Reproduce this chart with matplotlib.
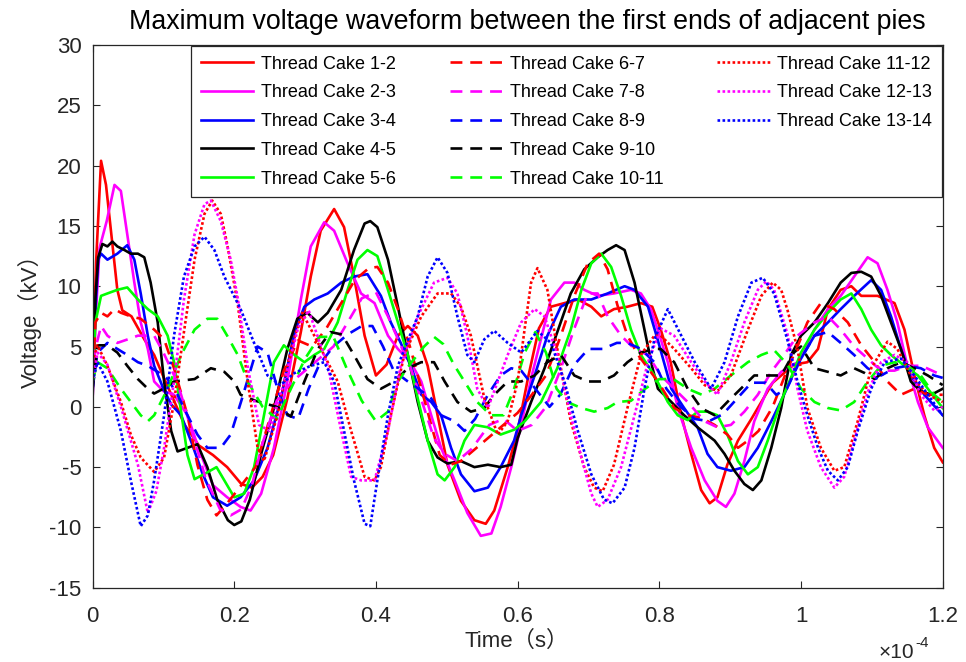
import numpy as np
import matplotlib
matplotlib.use('Agg')
import matplotlib.pyplot as plt
from matplotlib.lines import Line2D

# time in units of 1e-4 s, voltage in kV
pts_1_2 = [(0,2.0),(0.005,12.0),(0.012,20.4),(0.019,18.4),(0.028,13.5),(0.035,9.7),(0.042,8.0),(0.055,7.5),(0.073,5.6),(0.087,4.3),(0.1,2.5),(0.115,0.5),(0.13,-1.5),(0.15,-3.2),(0.17,-4.0),(0.19,-5.0),(0.21,-6.4),(0.225,-6.7),(0.24,-5.8),(0.255,-4.0),(0.275,0.7),(0.294,6.2),(0.308,10.8),(0.322,14.6),(0.341,16.4),(0.355,14.9),(0.369,10.8),(0.384,5.9),(0.4,2.6),(0.415,3.5),(0.431,5.9),(0.445,6.7),(0.459,5.9),(0.473,3.4),(0.487,-0.7),(0.501,-4.8),(0.52,-7.8),(0.539,-9.4),(0.555,-9.7),(0.567,-8.6),(0.586,-5.0),(0.6,-2.0),(0.615,2.5),(0.63,6.5),(0.647,8.3),(0.666,8.6),(0.685,8.9),(0.704,8.3),(0.718,7.5),(0.736,8.1),(0.755,8.3),(0.774,8.6),(0.79,8.3),(0.802,6.4),(0.816,3.7),(0.831,-0.7),(0.845,-3.9),(0.859,-6.9),(0.871,-8.0),(0.882,-7.5),(0.896,-4.8),(0.911,-2.8),(0.93,-1.0),(0.96,2.0),(0.99,3.5),(1.009,3.7),(1.024,4.8),(1.038,8.1),(1.056,9.7),(1.071,10.0),(1.085,9.2),(1.108,9.2),(1.132,8.6),(1.146,6.4),(1.16,2.6),(1.174,-0.7),(1.188,-3.4),(1.2,-4.6)]
pts_2_3 = [(0,0.5),(0.005,8.0),(0.01,13.2),(0.02,15.4),(0.031,18.4),(0.04,17.9),(0.049,14.3),(0.059,10.3),(0.068,7.0),(0.078,4.8),(0.087,2.1),(0.1,1.3),(0.115,1.0),(0.134,-0.7),(0.15,-3.5),(0.17,-6.5),(0.19,-7.5),(0.209,-8.3),(0.223,-8.6),(0.238,-7.2),(0.256,-3.4),(0.275,2.1),(0.294,8.9),(0.308,13.3),(0.327,15.3),(0.341,14.6),(0.36,11.9),(0.379,9.4),(0.398,8.6),(0.417,5.9),(0.431,4.8),(0.449,3.7),(0.464,2.1),(0.478,-0.7),(0.492,-3.4),(0.511,-6.1),(0.529,-8.8),(0.548,-10.7),(0.563,-10.5),(0.576,-8.3),(0.591,-5.0),(0.605,-1.5),(0.62,2.6),(0.647,8.9),(0.666,10.3),(0.68,10.3),(0.694,9.7),(0.713,9.2),(0.736,9.4),(0.76,9.7),(0.774,9.4),(0.788,8.1),(0.8,6.0),(0.812,3.7),(0.826,-0.1),(0.845,-3.4),(0.864,-6.1),(0.882,-7.8),(0.894,-8.3),(0.906,-7.2),(0.92,-4.5),(0.934,-1.2),(0.953,1.5),(0.972,2.9),(0.995,3.7),(1.019,6.4),(1.038,8.1),(1.056,9.2),(1.075,10.8),(1.094,12.4),(1.108,11.9),(1.122,9.7),(1.136,7.0),(1.15,3.4),(1.165,0.4),(1.179,-1.7),(1.2,-3.4)]
pts_3_4 = [(0,1.0),(0.004,8.0),(0.008,12.2),(0.012,12.7),(0.021,12.2),(0.035,12.7),(0.049,13.4),(0.059,12.2),(0.068,9.4),(0.078,5.9),(0.087,3.4),(0.1,1.5),(0.111,0.2),(0.125,-0.7),(0.14,-3.0),(0.155,-5.5),(0.17,-7.5),(0.19,-8.2),(0.209,-7.5),(0.228,-6.1),(0.247,-3.4),(0.266,0.7),(0.285,6.2),(0.299,8.3),(0.313,8.9),(0.332,9.4),(0.351,10.3),(0.369,10.8),(0.388,11.0),(0.407,9.2),(0.421,7.0),(0.435,5.3),(0.449,3.4),(0.464,1.0),(0.478,0.4),(0.492,-0.7),(0.506,-3.4),(0.52,-5.6),(0.539,-7.0),(0.558,-6.7),(0.576,-5.0),(0.595,-2.8),(0.605,-0.7),(0.624,2.6),(0.642,5.9),(0.661,8.3),(0.68,8.9),(0.704,8.9),(0.727,9.4),(0.751,10.0),(0.765,9.7),(0.784,8.3),(0.798,5.5),(0.817,1.5),(0.835,-0.1),(0.854,-1.7),(0.868,-3.9),(0.882,-5.0),(0.901,-5.3),(0.92,-5.0),(0.939,-3.4),(0.958,-1.2),(0.976,1.0),(0.995,3.5),(1.019,5.9),(1.038,7.0),(1.056,8.1),(1.075,9.2),(1.099,10.5),(1.113,9.7),(1.127,7.5),(1.141,4.8),(1.155,2.6),(1.174,1.0),(1.2,-0.7)]
pts_4_5 = [(0,0.5),(0.004,9.0),(0.008,12.4),(0.014,13.5),(0.021,13.3),(0.028,13.7),(0.035,13.3),(0.045,13.0),(0.054,12.7),(0.064,12.7),(0.073,12.4),(0.082,10.3),(0.092,7.0),(0.101,2.1),(0.111,-2.0),(0.12,-3.7),(0.134,-3.4),(0.148,-3.1),(0.162,-5.0),(0.176,-7.7),(0.191,-9.4),(0.2,-9.8),(0.21,-9.5),(0.222,-7.7),(0.238,-3.9),(0.256,-0.1),(0.275,4.8),(0.289,7.3),(0.303,7.8),(0.318,7.0),(0.332,7.8),(0.351,9.7),(0.369,13.0),(0.384,15.2),(0.392,15.4),(0.402,14.9),(0.417,12.2),(0.431,8.3),(0.445,4.3),(0.459,0.4),(0.473,-2.8),(0.487,-4.2),(0.501,-4.7),(0.52,-4.5),(0.539,-5.0),(0.558,-4.8),(0.576,-5.0),(0.591,-4.8),(0.6,-2.6),(0.619,0.4),(0.638,3.2),(0.656,6.2),(0.675,9.4),(0.694,11.4),(0.713,12.4),(0.727,13.0),(0.739,13.4),(0.751,13.0),(0.765,10.3),(0.779,6.4),(0.79,3.3),(0.798,1.5),(0.817,0.4),(0.835,-0.7),(0.854,-1.7),(0.878,-2.8),(0.892,-3.9),(0.906,-5.3),(0.92,-6.4),(0.932,-6.9),(0.944,-6.1),(0.958,-3.4),(0.972,-0.1),(0.986,4.3),(1.0,5.9),(1.019,7.0),(1.038,8.6),(1.056,10.3),(1.071,11.1),(1.085,11.2),(1.099,10.8),(1.113,9.2),(1.127,7.0),(1.141,4.8),(1.155,2.1),(1.169,1.3),(1.184,1.0),(1.2,1.5)]
pts_5_6 = [(0,2.1),(0.004,7.0),(0.012,9.2),(0.021,9.4),(0.035,9.7),(0.049,9.9),(0.064,8.9),(0.078,8.1),(0.092,7.5),(0.106,5.9),(0.115,3.7),(0.125,-0.4),(0.134,-4.0),(0.144,-6.0),(0.16,-5.5),(0.175,-5.0),(0.19,-6.5),(0.2,-7.5),(0.214,-7.2),(0.228,-5.0),(0.242,-0.7),(0.256,3.7),(0.27,5.1),(0.285,4.3),(0.299,3.7),(0.313,4.3),(0.327,4.8),(0.346,7.0),(0.36,9.7),(0.374,12.2),(0.388,13.0),(0.402,12.5),(0.417,9.7),(0.431,7.0),(0.445,4.3),(0.459,0.7),(0.473,-2.8),(0.487,-5.6),(0.497,-6.1),(0.511,-5.0),(0.525,-2.8),(0.539,-1.5),(0.558,-1.7),(0.576,-2.3),(0.595,-1.9),(0.61,-1.2),(0.633,0.4),(0.656,3.2),(0.675,6.4),(0.69,9.7),(0.704,11.9),(0.718,12.7),(0.732,11.6),(0.746,9.2),(0.76,6.4),(0.774,4.3),(0.793,2.6),(0.812,0.4),(0.826,-0.7),(0.84,-1.1),(0.854,-0.4),(0.868,-0.4),(0.882,-0.7),(0.896,-2.3),(0.911,-4.5),(0.925,-5.6),(0.939,-5.0),(0.953,-2.8),(0.972,0.5),(0.99,3.0),(1.0,4.5),(1.019,6.4),(1.038,7.8),(1.056,8.9),(1.071,9.4),(1.085,8.1),(1.099,6.4),(1.113,5.1),(1.127,4.3),(1.146,3.4),(1.165,2.6),(1.179,1.5),(1.2,-0.1)]
pts_6_7 = [(0,1.5),(0.004,7.0),(0.012,7.8),(0.021,7.5),(0.031,8.1),(0.04,7.8),(0.054,7.5),(0.068,7.3),(0.087,6.4),(0.101,5.6),(0.115,3.2),(0.134,-0.7),(0.148,-4.8),(0.162,-7.7),(0.175,-9.0),(0.19,-8.0),(0.21,-6.5),(0.23,-5.0),(0.25,-1.0),(0.27,3.0),(0.29,5.5),(0.31,5.0),(0.33,6.5),(0.35,8.5),(0.37,10.5),(0.39,11.5),(0.402,11.6),(0.417,10.3),(0.431,8.1),(0.449,4.8),(0.464,1.5),(0.478,-1.5),(0.49,-4.0),(0.505,-4.8),(0.52,-4.5),(0.54,-3.5),(0.56,-2.5),(0.58,-1.5),(0.6,-0.5),(0.62,1.0),(0.64,2.6),(0.661,5.9),(0.68,9.2),(0.699,11.9),(0.715,12.7),(0.727,11.4),(0.741,8.4),(0.755,5.9),(0.77,4.3),(0.784,3.2),(0.798,2.1),(0.821,-0.1),(0.84,-0.7),(0.859,-0.9),(0.878,-1.5),(0.896,-2.3),(0.911,-3.4),(0.925,-2.8),(0.94,-2.0),(0.96,0.0),(0.98,3.0),(0.995,5.0),(1.009,7.0),(1.028,8.6),(1.047,8.1),(1.066,7.0),(1.085,5.1),(1.104,3.7),(1.122,2.1),(1.141,1.0),(1.16,1.5),(1.179,1.0),(1.2,1.0)]
pts_7_8 = [(0,2.1),(0.004,4.8),(0.012,6.7),(0.021,5.9),(0.035,5.3),(0.05,5.6),(0.064,5.9),(0.087,5.9),(0.1,4.5),(0.12,2.0),(0.14,-2.0),(0.16,-6.0),(0.18,-8.5),(0.195,-9.0),(0.21,-8.5),(0.225,-6.5),(0.24,-3.0),(0.26,0.5),(0.28,2.0),(0.3,3.0),(0.32,4.0),(0.34,5.0),(0.36,7.0),(0.38,9.0),(0.4,9.5),(0.417,7.5),(0.435,5.1),(0.449,3.2),(0.468,-0.1),(0.482,-2.6),(0.497,-3.9),(0.515,-4.5),(0.535,-3.5),(0.56,-1.5),(0.58,-1.0),(0.6,-2.0),(0.62,-1.5),(0.64,0.0),(0.66,3.0),(0.68,6.5),(0.699,9.4),(0.713,9.4),(0.727,7.5),(0.746,5.9),(0.765,4.8),(0.784,4.3),(0.802,2.6),(0.821,1.5),(0.84,0.4),(0.864,-1.2),(0.882,-1.7),(0.901,-1.5),(0.92,-0.4),(0.939,1.0),(0.958,2.9),(0.976,4.3),(0.995,5.9),(1.019,7.0),(1.038,7.5),(1.056,6.4),(1.075,5.0),(1.094,4.0),(1.113,3.0),(1.132,3.0),(1.15,3.4),(1.17,3.4),(1.2,2.6)]
pts_8_9 = [(0,1.5),(0.007,4.5),(0.021,5.3),(0.035,4.8),(0.049,4.3),(0.064,3.7),(0.078,3.4),(0.092,2.9),(0.106,2.3),(0.12,1.0),(0.134,-0.7),(0.148,-2.3),(0.162,-3.4),(0.181,-3.4),(0.195,-2.3),(0.21,0.5),(0.233,5.0),(0.247,4.5),(0.261,1.5),(0.275,-0.7),(0.29,-1.0),(0.305,1.5),(0.32,3.5),(0.34,5.0),(0.36,6.0),(0.38,6.7),(0.395,6.7),(0.41,5.0),(0.425,3.0),(0.445,2.1),(0.46,1.5),(0.478,0.7),(0.492,-0.7),(0.511,-1.2),(0.525,-2.0),(0.54,-1.0),(0.558,1.0),(0.576,2.6),(0.591,3.2),(0.605,3.0),(0.625,1.5),(0.645,0.0),(0.66,1.0),(0.68,3.5),(0.7,4.8),(0.72,4.8),(0.74,5.3),(0.755,5.3),(0.774,4.8),(0.793,3.7),(0.81,1.5),(0.83,0.0),(0.85,-1.0),(0.87,-1.2),(0.89,-0.6),(0.91,0.7),(0.93,2.0),(0.95,2.0),(0.965,1.0),(0.98,1.5),(1.0,4.0),(1.019,5.9),(1.038,6.2),(1.056,5.3),(1.075,4.3),(1.094,3.2),(1.113,2.6),(1.132,3.2),(1.15,3.4),(1.169,3.2),(1.188,2.6),(1.2,2.4)]
pts_9_10 = [(0,1.5),(0.007,5.1),(0.021,5.1),(0.035,4.5),(0.049,3.4),(0.064,2.3),(0.078,1.5),(0.087,1.1),(0.1,1.5),(0.115,2.1),(0.144,2.3),(0.167,3.2),(0.186,2.9),(0.2,2.1),(0.209,1.0),(0.23,0.5),(0.26,0.0),(0.28,-0.8),(0.299,2.1),(0.318,4.8),(0.336,6.2),(0.352,6.0),(0.369,4.3),(0.388,2.3),(0.407,1.5),(0.426,2.1),(0.445,3.2),(0.464,3.7),(0.482,3.7),(0.497,2.1),(0.515,0.4),(0.534,-0.4),(0.553,-0.1),(0.567,1.0),(0.586,2.1),(0.605,2.1),(0.624,2.6),(0.642,3.7),(0.661,4.3),(0.68,2.6),(0.699,2.1),(0.718,2.1),(0.736,2.6),(0.755,3.7),(0.774,4.5),(0.793,4.8),(0.802,4.8),(0.821,3.7),(0.84,1.5),(0.859,-0.1),(0.878,-0.7),(0.896,0.4),(0.915,1.5),(0.934,2.6),(0.953,2.6),(0.972,2.6),(0.99,4.5),(1.0,5.0),(1.019,3.2),(1.038,2.9),(1.056,2.6),(1.075,3.2),(1.09,2.8),(1.104,2.3),(1.122,3.2),(1.141,3.7),(1.16,3.2),(1.179,2.6),(1.2,1.8)]
pts_10_11 = [(0,2.1),(0.007,3.7),(0.021,3.2),(0.04,1.5),(0.054,0.4),(0.068,-0.7),(0.078,-1.2),(0.087,-0.7),(0.106,1.5),(0.125,4.3),(0.144,6.4),(0.162,7.3),(0.176,7.3),(0.19,5.9),(0.205,4.3),(0.219,2.1),(0.24,0.0),(0.26,-1.0),(0.28,1.5),(0.3,4.0),(0.32,5.8),(0.34,5.8),(0.36,3.0),(0.38,0.5),(0.4,-1.2),(0.417,-0.4),(0.431,2.1),(0.449,3.6),(0.468,5.0),(0.482,5.8),(0.495,5.2),(0.51,3.5),(0.525,2.1),(0.543,0.4),(0.562,-0.7),(0.58,-0.7),(0.595,1.5),(0.61,4.5),(0.625,6.2),(0.64,4.5),(0.655,1.5),(0.67,0.4),(0.69,-0.1),(0.708,-0.4),(0.727,-0.1),(0.741,0.4),(0.76,0.5),(0.78,1.5),(0.8,2.3),(0.82,2.3),(0.84,1.5),(0.86,1.0),(0.878,1.5),(0.901,2.6),(0.925,3.7),(0.944,4.3),(0.962,4.7),(0.981,3.5),(1.0,1.5),(1.019,0.4),(1.038,-0.1),(1.056,-0.3),(1.075,0.4),(1.094,2.1),(1.113,3.4),(1.132,3.7),(1.15,3.4),(1.169,2.6),(1.188,1.0),(1.2,0.4)]
pts_11_12 = [(0,3.7),(0.007,5.1),(0.021,3.4),(0.04,0.4),(0.054,-2.3),(0.068,-4.2),(0.087,-5.4),(0.101,-4.2),(0.115,0.4),(0.129,6.2),(0.144,12.2),(0.158,16.0),(0.169,17.1),(0.181,16.0),(0.19,13.5),(0.205,8.5),(0.219,2.1),(0.233,-3.4),(0.242,-4.5),(0.261,-0.7),(0.28,4.8),(0.296,7.8),(0.313,5.9),(0.332,3.7),(0.346,2.1),(0.365,-2.0),(0.384,-5.8),(0.398,-6.1),(0.407,-5.0),(0.421,-0.7),(0.44,4.3),(0.464,7.5),(0.487,9.4),(0.506,9.4),(0.52,8.3),(0.534,5.9),(0.553,0.7),(0.572,-2.3),(0.586,-1.2),(0.6,2.1),(0.61,6.5),(0.619,10.3),(0.628,11.5),(0.642,9.7),(0.656,4.8),(0.675,-1.2),(0.694,-5.0),(0.708,-6.7),(0.72,-7.0),(0.736,-4.8),(0.755,-0.1),(0.774,4.3),(0.793,5.9),(0.802,5.9),(0.821,4.8),(0.845,3.2),(0.864,1.8),(0.882,1.3),(0.901,2.6),(0.925,6.4),(0.944,9.2),(0.96,10.3),(0.972,9.7),(0.981,8.0),(0.995,4.8),(1.009,-0.1),(1.028,-3.4),(1.047,-5.3),(1.061,-5.0),(1.08,-1.2),(1.099,3.2),(1.122,5.4),(1.136,4.8),(1.155,2.6),(1.179,1.0),(1.2,0.4)]
pts_12_13 = [(0,2.0),(0.007,4.5),(0.021,3.5),(0.04,0.0),(0.064,-4.8),(0.078,-8.8),(0.09,-7.0),(0.101,-3.4),(0.115,2.1),(0.129,8.9),(0.144,14.3),(0.158,16.8),(0.167,17.1),(0.181,15.4),(0.195,12.2),(0.205,9.0),(0.22,3.0),(0.235,-1.5),(0.25,-2.0),(0.27,2.0),(0.29,6.5),(0.305,8.0),(0.332,3.4),(0.351,-2.0),(0.365,-5.8),(0.379,-6.1),(0.398,-6.1),(0.417,-2.0),(0.435,3.4),(0.459,7.5),(0.482,10.3),(0.501,10.7),(0.515,9.4),(0.529,5.9),(0.543,1.5),(0.558,-0.1),(0.572,2.1),(0.586,4.3),(0.605,7.0),(0.624,8.1),(0.638,7.5),(0.656,4.3),(0.675,-0.7),(0.69,-4.2),(0.704,-7.2),(0.713,-8.3),(0.727,-7.7),(0.746,-5.0),(0.765,-0.7),(0.784,3.7),(0.802,6.5),(0.821,5.9),(0.845,3.7),(0.864,2.1),(0.882,1.0),(0.901,3.7),(0.92,7.0),(0.939,9.7),(0.951,10.4),(0.962,9.7),(0.981,6.0),(0.995,1.5),(1.009,-2.0),(1.028,-5.0),(1.047,-6.7),(1.061,-5.8),(1.075,-2.8),(1.094,1.2),(1.113,3.7),(1.132,4.3),(1.15,3.7),(1.169,1.0),(1.188,-0.3),(1.2,0.0)]
pts_13_14 = [(0,2.1),(0.007,3.7),(0.021,2.1),(0.04,-2.0),(0.054,-6.1),(0.068,-9.9),(0.078,-9.0),(0.087,-6.1),(0.101,-0.7),(0.115,5.9),(0.129,10.8),(0.144,13.3),(0.158,14.1),(0.172,13.0),(0.186,10.8),(0.209,8.1),(0.228,5.3),(0.247,2.6),(0.265,1.8),(0.285,2.8),(0.308,3.4),(0.327,3.7),(0.341,2.1),(0.355,-2.0),(0.369,-6.1),(0.384,-9.7),(0.392,-9.9),(0.402,-6.1),(0.417,-0.7),(0.431,3.4),(0.445,5.5),(0.459,7.5),(0.473,10.8),(0.487,12.4),(0.501,11.1),(0.515,7.5),(0.529,4.3),(0.539,3.7),(0.553,5.6),(0.567,6.3),(0.586,5.3),(0.605,4.5),(0.628,6.3),(0.647,5.3),(0.666,2.1),(0.685,-2.0),(0.704,-5.6),(0.722,-7.7),(0.734,-8.0),(0.751,-6.7),(0.765,-3.4),(0.779,1.5),(0.793,5.6),(0.812,8.1),(0.831,5.9),(0.85,3.7),(0.873,1.5),(0.892,3.7),(0.911,7.5),(0.93,10.3),(0.946,10.7),(0.962,9.4),(0.981,5.5),(0.995,2.1),(1.009,-0.7),(1.024,-3.4),(1.038,-5.3),(1.052,-6.1),(1.066,-5.0),(1.08,-2.0),(1.099,1.5),(1.118,3.7),(1.141,4.0),(1.16,2.6),(1.179,1.0),(1.2,-0.7)]

labels = ['Thread Cake 1-2', 'Thread Cake 2-3', 'Thread Cake 3-4', 'Thread Cake 4-5',
          'Thread Cake 5-6', 'Thread Cake 6-7', 'Thread Cake 7-8', 'Thread Cake 8-9',
          'Thread Cake 9-10', 'Thread Cake 10-11', 'Thread Cake 11-12', 'Thread Cake 12-13',
          'Thread Cake 13-14']
series = [pts_1_2, pts_2_3, pts_3_4, pts_4_5, pts_5_6, pts_6_7, pts_7_8, pts_8_9,
          pts_9_10, pts_10_11, pts_11_12, pts_12_13, pts_13_14]
colors = ['#ff0000', '#ff00ff', '#0000ff', '#000000', '#00ff00'] * 2 + ['#ff0000', '#ff00ff', '#0000ff']
kinds = ['solid'] * 5 + ['dash'] * 5 + ['dot'] * 3
x_ticks = [0, 0.2, 0.4, 0.6, 0.8, 1.0, 1.2]
x_ticklabels = ['0', '0.2', '0.4', '0.6', '0.8', '1', '1.2']
y_ticks = list(range(-15, 31, 5))

plt.rcParams['font.family'] = ['Liberation Sans', 'Noto Sans CJK SC']
plt.rcParams['axes.unicode_minus'] = False
ink = '#262626'

fig = plt.figure(figsize=(9.66, 6.62), dpi=100)
ax = fig.add_axes([0.0958, 0.1122, 0.8801, 0.8198])

lw = 1.9
for pts, c, k, lab in zip(series, colors, kinds, labels):
    t, v = np.array(pts).T
    if k == 'solid':
        ax.plot(t, v, color=c, lw=lw, label=lab)
    elif k == 'dash':
        ax.plot(t, v, color=c, lw=lw, dashes=(4.5, 3), label=lab)
    else:
        ax.plot(t, v, color=c, lw=lw, dashes=(1, 0.9), label=lab)

ax.set_xlim(0, 1.2)
ax.set_ylim(-15, 30)
ax.set_xticks(x_ticks)
ax.set_xticklabels(x_ticklabels)
ax.set_yticks(y_ticks)
ax.tick_params(direction='in', top=True, right=True, length=5, width=0.8,
               color=ink, labelcolor=ink, labelsize=16)
ax.tick_params(axis='x', pad=13)
ax.tick_params(axis='y', pad=8)
for s in ax.spines.values():
    s.set_color(ink)
    s.set_linewidth(0.9)

fig.text(527 / 966, 1 - 22 / 662, 'Maximum voltage waveform between the first ends of adjacent pies',
         ha='center', va='center', fontsize=19.3, color='black')
fig.text(30 / 966, 1 - 316 / 662, 'Voltage（kV）', rotation=90, ha='center', va='center',
         fontsize=16, color=ink)
fig.text(517 / 966, 1 - 641 / 662, 'Time（s）', ha='center', va='center', fontsize=16, color=ink)
fig.text(879 / 966, 1 - 652 / 662, '×10', ha='left', va='center', fontsize=15, color=ink)
fig.text(915 / 966, 1 - 643 / 662, '-4', ha='left', va='center', fontsize=11, color=ink)

handles, labs = ax.get_legend_handles_labels()
blank = Line2D([], [], color='none')
handles = handles + [blank, blank]
labs = labs + ['', '']
leg = ax.legend(handles, labs, ncol=3, loc='upper left',
                bbox_to_anchor=(191 / 966, 1 - 46 / 662), bbox_transform=fig.transFigure,
                borderaxespad=0, fancybox=False, framealpha=1, edgecolor=ink,
                handlelength=2.93, handletextpad=0.39, columnspacing=3.0, labelspacing=0.65,
                borderpad=0.53, prop={'family': 'Liberation Sans', 'size': 13})
leg.get_frame().set_linewidth(0.9)

fig.savefig('out.png', dpi=100)
